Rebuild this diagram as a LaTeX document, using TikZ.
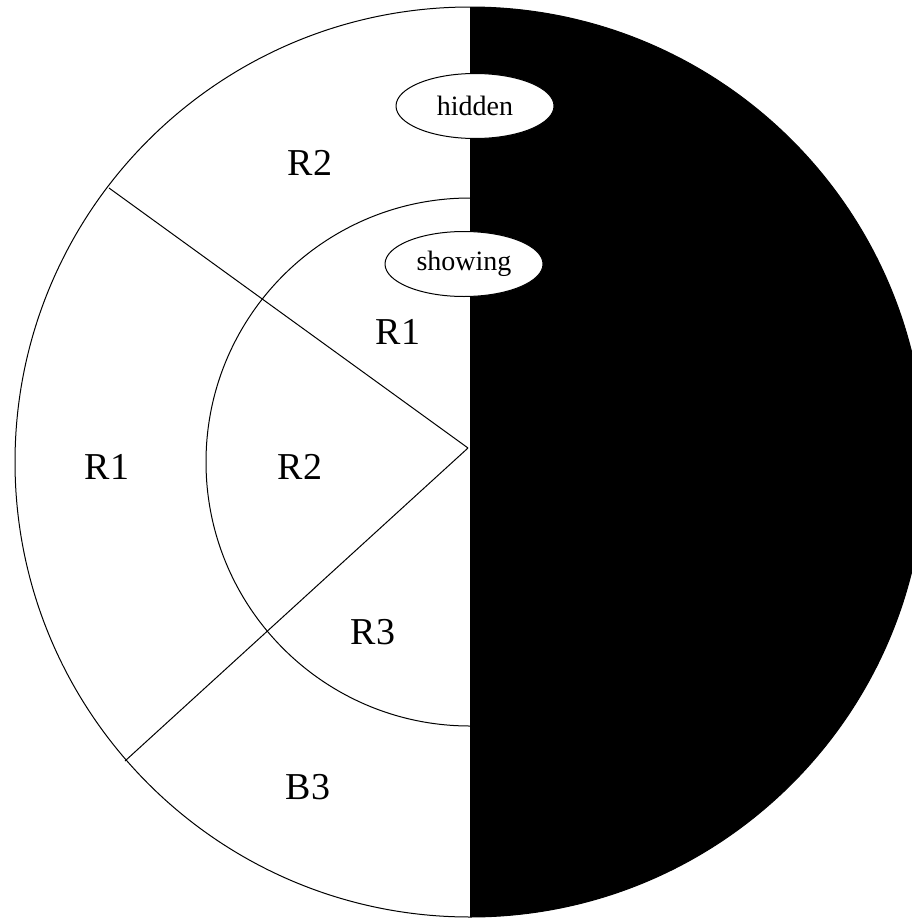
\documentclass[tikz,border=0pt]{standalone}
\usepackage{fontspec}
\setmainfont{Liberation Serif}
\usetikzlibrary{shapes.geometric}

\begin{document}
\begin{tikzpicture}[x=1pt, y=-1pt, line width=1pt,
    region/.style={font=\fontsize{38}{40}\selectfont, inner sep=0pt},
    tag/.style={draw, ellipse, fill=white, minimum width=158pt, minimum height=65pt,
        inner sep=0pt, font=\fontsize{28}{30}\selectfont}]
        \useasboundingbox (0,0) rectangle (912,918);

        % Rings
        \coordinate (c) at (470,462);
        \draw (c) circle[radius=455pt];
        \draw (c) circle[radius=264pt];

        % Spokes
        \coordinate (hub) at (468,448);
        \coordinate (up) at (109,188);
        \coordinate (down) at (125,761);
        \draw (hub) -- (up);
        \draw (hub) -- (down);

        % Covered half
        \fill[black] (470,7) arc[start angle=90, end angle=-90, radius=455pt] -- cycle;

        % Labels
        \node[tag] (hidden) at (475,106) {hidden};
        \node[tag] (showing) at (464,264) {showing};

        \node[region] (outR2) at (310,163) {R2};
        \node[region] (outR1) at (107,467) {R1};
        \node[region] (outB3) at (308,787) {B3};
        \node[region] (inR1) at (398,332) {R1};
        \node[region] (inR2) at (300,467) {R2};
        \node[region] (inR3) at (373,632) {R3};
\end{tikzpicture}
\end{document}
